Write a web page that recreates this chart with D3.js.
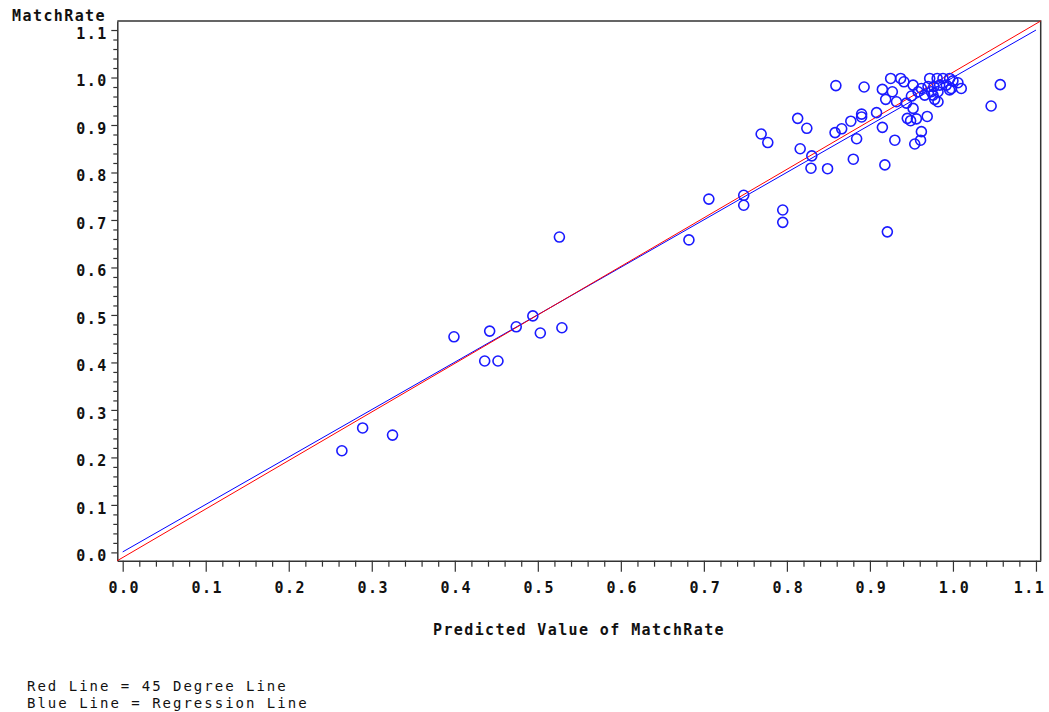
<!DOCTYPE html>
<html>
<head>
<meta charset="utf-8">
<script src="https://cdn.jsdelivr.net/npm/d3@7"></script>
<style>
  body { margin: 0; background: #fff; }
  text { font-family: "DejaVu Sans Mono", monospace; fill: #111; }
  .tick-label { font-size: 15px; font-weight: bold; letter-spacing: 1.5px; }
  .axis-title { font-size: 15px; font-weight: bold; letter-spacing: 1.4px; }
  .note { font-size: 14px; letter-spacing: 2px; }
</style>
</head>
<body>
<svg id="chart" width="1049" height="712"></svg>
<script>
const predicted = [
  0.264, 0.289, 0.325, 0.399, 0.442, 0.436, 0.452, 0.474, 0.494, 0.503, 0.529, 0.526,
  0.682, 0.706, 0.748, 0.748, 0.795, 0.795,
  0.769, 0.777, 0.813, 0.824, 0.816, 0.830, 0.829, 0.849, 0.859, 0.858, 0.866, 0.877,
  0.884, 0.880, 0.890, 0.890, 0.893, 0.908, 0.915, 0.930, 0.918, 0.921, 1.057, 1.046,
  0.915, 0.925, 0.927, 0.919, 0.937, 0.941, 0.932, 0.944, 0.952, 0.950, 0.958, 0.962,
  0.952, 0.945, 0.949, 0.956, 0.969, 0.962, 0.961, 0.954, 0.972, 0.981, 0.988, 0.996,
  1.000, 1.006, 0.970, 0.977, 0.984, 0.992, 0.998, 1.010, 0.974, 0.982, 0.996, 0.976,
  0.978, 0.982, 0.966
];
const matchRate = [
  0.214, 0.262, 0.247, 0.454, 0.466, 0.403, 0.403, 0.475, 0.498, 0.462, 0.473, 0.664,
  0.658, 0.744, 0.752, 0.731, 0.721, 0.695,
  0.881, 0.863, 0.914, 0.893, 0.850, 0.835, 0.809, 0.808, 0.983, 0.884, 0.892, 0.908,
  0.871, 0.828, 0.923, 0.917, 0.980, 0.926, 0.895, 0.868, 0.816, 0.675, 0.985, 0.940,
  0.975, 0.998, 0.970, 0.954, 0.998, 0.991, 0.949, 0.946, 0.984, 0.961, 0.970, 0.977,
  0.935, 0.914, 0.909, 0.913, 0.918, 0.886, 0.868, 0.860, 0.998, 0.998, 0.998, 0.998,
  0.993, 0.989, 0.981, 0.981, 0.984, 0.984, 0.977, 0.977, 0.970, 0.970, 0.974, 0.963,
  0.954, 0.949, 0.963
];

// axis ranges as drawn (SAS pads a little past the ticks)
const xExtent = [-0.0065, 1.1057];
const yExtent = [-0.0175, 1.119];
const majorTicks = [0, 0.1, 0.2, 0.3, 0.4, 0.5, 0.6, 0.7, 0.8, 0.9, 1.0, 1.1];
const minorTicks = d3.range(0, 1.1001, 0.02).filter(v => Math.abs(v * 10 - Math.round(v * 10)) > 1e-6);

// regression fit (blue), 45 degree line (red) runs corner to corner
const regIntercept = 0.001, regSlope = 0.999;
const regX = [0, 1.1];

const svg = d3.select('#chart');

const x = d3.scaleLinear().domain(xExtent).range([117.3, 1040.7]);
const y = d3.scaleLinear().domain(yExtent).range([560.7, 21]);

// frame (top + right)
svg.append('path')
  .attr('d', `M${x(xExtent[0])},${y(yExtent[1])}H${x(xExtent[1])}V${y(yExtent[0])}`)
  .attr('fill', 'none')
  .attr('stroke', '#333')
  .attr('stroke-width', 1.5);

// y axis
const yAxis = svg.append('g')
  .attr('transform', `translate(${x(xExtent[0])},0)`)
  .call(d3.axisLeft(y).tickValues(majorTicks).tickSize(6).tickSizeOuter(0).tickFormat(d3.format('.1f')));
svg.append('g')
  .attr('transform', `translate(${x(xExtent[0])},0)`)
  .call(d3.axisLeft(y).tickValues(minorTicks).tickSize(4).tickSizeOuter(0).tickFormat(''))
  .select('.domain').remove();

// x axis
const xAxis = svg.append('g')
  .attr('transform', `translate(0,${y(yExtent[0])})`)
  .call(d3.axisBottom(x).tickValues(majorTicks).tickSize(11).tickSizeOuter(0).tickFormat(d3.format('.1f')));
svg.append('g')
  .attr('transform', `translate(0,${y(yExtent[0])})`)
  .call(d3.axisBottom(x).tickValues(minorTicks).tickSize(6).tickSizeOuter(0).tickFormat(''))
  .select('.domain').remove();

svg.selectAll('.domain').attr('stroke', '#333').attr('stroke-width', 1.5);
svg.selectAll('.tick line').attr('stroke', '#333').attr('stroke-width', 1.2);
svg.selectAll('g').attr('font-family', null).attr('font-size', null);

yAxis.selectAll('text')
  .attr('class', 'tick-label')
  .attr('x', -9.5)
  .attr('dy', '0.55em');
xAxis.selectAll('text')
  .attr('class', 'tick-label')
  .attr('y', 27)
  .attr('dy', '0.35em')
  .attr('dx', (d, i, n) => i === n.length - 1 ? -7 : 1);

// titles
svg.append('text')
  .attr('class', 'axis-title')
  .attr('x', 106)
  .attr('y', 21)
  .attr('text-anchor', 'end')
  .text('MatchRate');

svg.append('text')
  .attr('class', 'axis-title')
  .attr('x', (x(xExtent[0]) + x(xExtent[1])) / 2)
  .attr('y', 635)
  .attr('text-anchor', 'middle')
  .text('Predicted Value of MatchRate');

// lines
const line = d3.line().x(d => x(d[0])).y(d => y(d[1]));
svg.append('path')
  .datum(regX.map(v => [v, regIntercept + regSlope * v]))
  .attr('d', line)
  .attr('fill', 'none')
  .attr('stroke', '#0000ff')
  .attr('stroke-width', 1);
svg.append('path')
  .datum([[xExtent[0], yExtent[0]], [xExtent[1], yExtent[1]]])
  .attr('d', line)
  .attr('fill', 'none')
  .attr('stroke', '#ff0000')
  .attr('stroke-width', 1);

// points
svg.append('g')
  .selectAll('circle')
  .data(predicted.map((p, i) => [p, matchRate[i]]))
  .join('circle')
  .attr('cx', d => x(d[0]))
  .attr('cy', d => y(d[1]))
  .attr('r', 5)
  .attr('fill', 'none')
  .attr('stroke', '#1a1aff')
  .attr('stroke-width', 1.6);

// footnotes
svg.append('text')
  .attr('class', 'note')
  .attr('x', 27)
  .attr('y', 691)
  .text('Red Line = 45 Degree Line');
svg.append('text')
  .attr('class', 'note')
  .attr('x', 27)
  .attr('y', 708)
  .text('Blue Line = Regression Line');
</script>
</body>
</html>
